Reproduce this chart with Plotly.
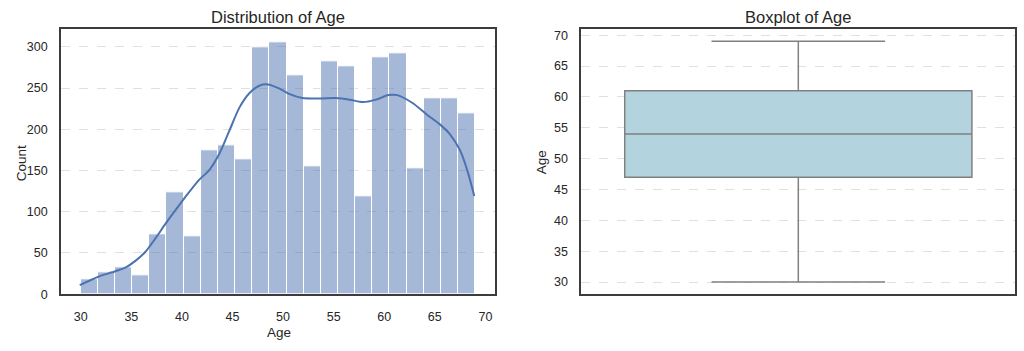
import plotly.graph_objects as go

# ---- data ----
bin_start = 30.0
bin_end = 69.0
hist_counts = [18, 27, 33, 23, 72, 123, 70, 174, 181, 163, 300, 306, 266,
               155, 282, 276, 119, 287, 292, 153, 238, 238, 219]

kde_age = [29.9, 31.8, 33.1, 34.45, 35.4, 36.4, 37.4, 38.3, 39.07, 40.4, 41.7,
           42.7, 43.7, 44.68, 45.67, 46.66, 47.65, 48.5, 49.6, 50.6, 51.9, 53.6,
           55.2, 56.6, 57.9, 59.2, 60.4, 61.3, 62.8, 64.2, 65.5, 66.5, 67.5,
           68.3, 68.9]
kde_count = [11, 21.5, 26.5, 32.5, 40.4, 51.5, 68, 84, 97, 118.9, 138.7,
             150.6, 170.4, 198, 226, 243.8, 252.9, 254.5, 249.7, 243, 238, 237.4,
             238, 236, 233, 236, 241.5, 241.5, 231.9, 218, 206, 194, 174.4,
             146.6, 119]

box_q1 = 47
box_median = 54
box_q3 = 61
box_low = 30
box_high = 69

x_ticks = [30, 35, 40, 45, 50, 55, 60, 65, 70]
count_ticks = [0, 50, 100, 150, 200, 250, 300]
age_ticks = [30, 35, 40, 45, 50, 55, 60, 65, 70]

# ---- derived bin geometry ----
n_bins = len(hist_counts)
bw = (bin_end - bin_start) / n_bins
centers = [bin_start + bw * (i + 0.5) for i in range(n_bins)]

FONT = "Liberation Sans, Arial, sans-serif"
TXT = "#262626"
GRID = "#e0e0e0"
FRAME = "#3c3c3c"
W, H = 1024, 351

fig = go.Figure()

fig.add_trace(go.Bar(
    x=centers, y=hist_counts, width=[bw] * n_bins,
    marker=dict(color="rgba(76,114,176,0.5)", line=dict(color="white", width=1)),
    xaxis="x", yaxis="y", showlegend=False, hoverinfo="skip"))

fig.add_trace(go.Scatter(
    x=kde_age, y=kde_count, mode="lines",
    line=dict(color="#4c72b0", width=2, shape="spline", smoothing=0.7),
    xaxis="x", yaxis="y", showlegend=False))

fig.add_trace(go.Box(
    x=[0], q1=[box_q1], median=[box_median], q3=[box_q3],
    lowerfence=[box_low], upperfence=[box_high],
    width=0.8, whiskerwidth=0.5,
    fillcolor="#b3d3de", line=dict(color="#808080", width=1.5),
    xaxis="x2", yaxis="y2", showlegend=False, boxpoints=False))

axis_common = dict(showline=True, mirror=True, linecolor=FRAME, linewidth=1.6,
                   tickfont=dict(family=FONT, size=12.5, color=TXT), zeroline=False)
label_font = dict(family=FONT, size=13.5, color=TXT)
title_font = dict(family=FONT, size=16.5, color=TXT)


def ann(text, px, py, font, angle=0):
    return dict(text=text, x=px / W, y=1 - py / H, xref="paper", yref="paper",
                showarrow=False, xanchor="center", yanchor="middle",
                textangle=angle, font=font)


fig.update_layout(
    width=W, height=H,
    margin=dict(l=0, r=0, t=0, b=0),
    paper_bgcolor="white", plot_bgcolor="white",
    bargap=0,
    font=dict(family=FONT, color=TXT),
    xaxis=dict(domain=[0.0596, 0.4834], range=[28.05, 70.95], tickvals=x_ticks,
               showgrid=False, ticklabelstandoff=10, anchor="y", **axis_common),
    yaxis=dict(domain=[0.1453, 0.9174], range=[0, 321.3], tickvals=count_ticks,
               showgrid=True, gridcolor=GRID, griddash="dash", gridwidth=1,
               ticklabelstandoff=9, anchor="x", **axis_common),
    xaxis2=dict(domain=[0.5677, 0.9915], range=[-0.5, 0.5], showticklabels=False,
                showgrid=False, anchor="y2", **axis_common),
    yaxis2=dict(domain=[0.1453, 0.9174], range=[28.05, 70.95], tickvals=age_ticks,
                showgrid=True, gridcolor=GRID, griddash="dash", gridwidth=1,
                ticklabelstandoff=9, anchor="x2", **axis_common),
    annotations=[
        ann("Distribution of Age", 278, 16, title_font),
        ann("Boxplot of Age", 798, 16, title_font),
        ann("Age", 279, 339, label_font),
        ann("Count", 21, 166, label_font, -90),
        ann("Age", 541, 165, label_font, -90),
    ],
)

fig.write_html("out.html")
